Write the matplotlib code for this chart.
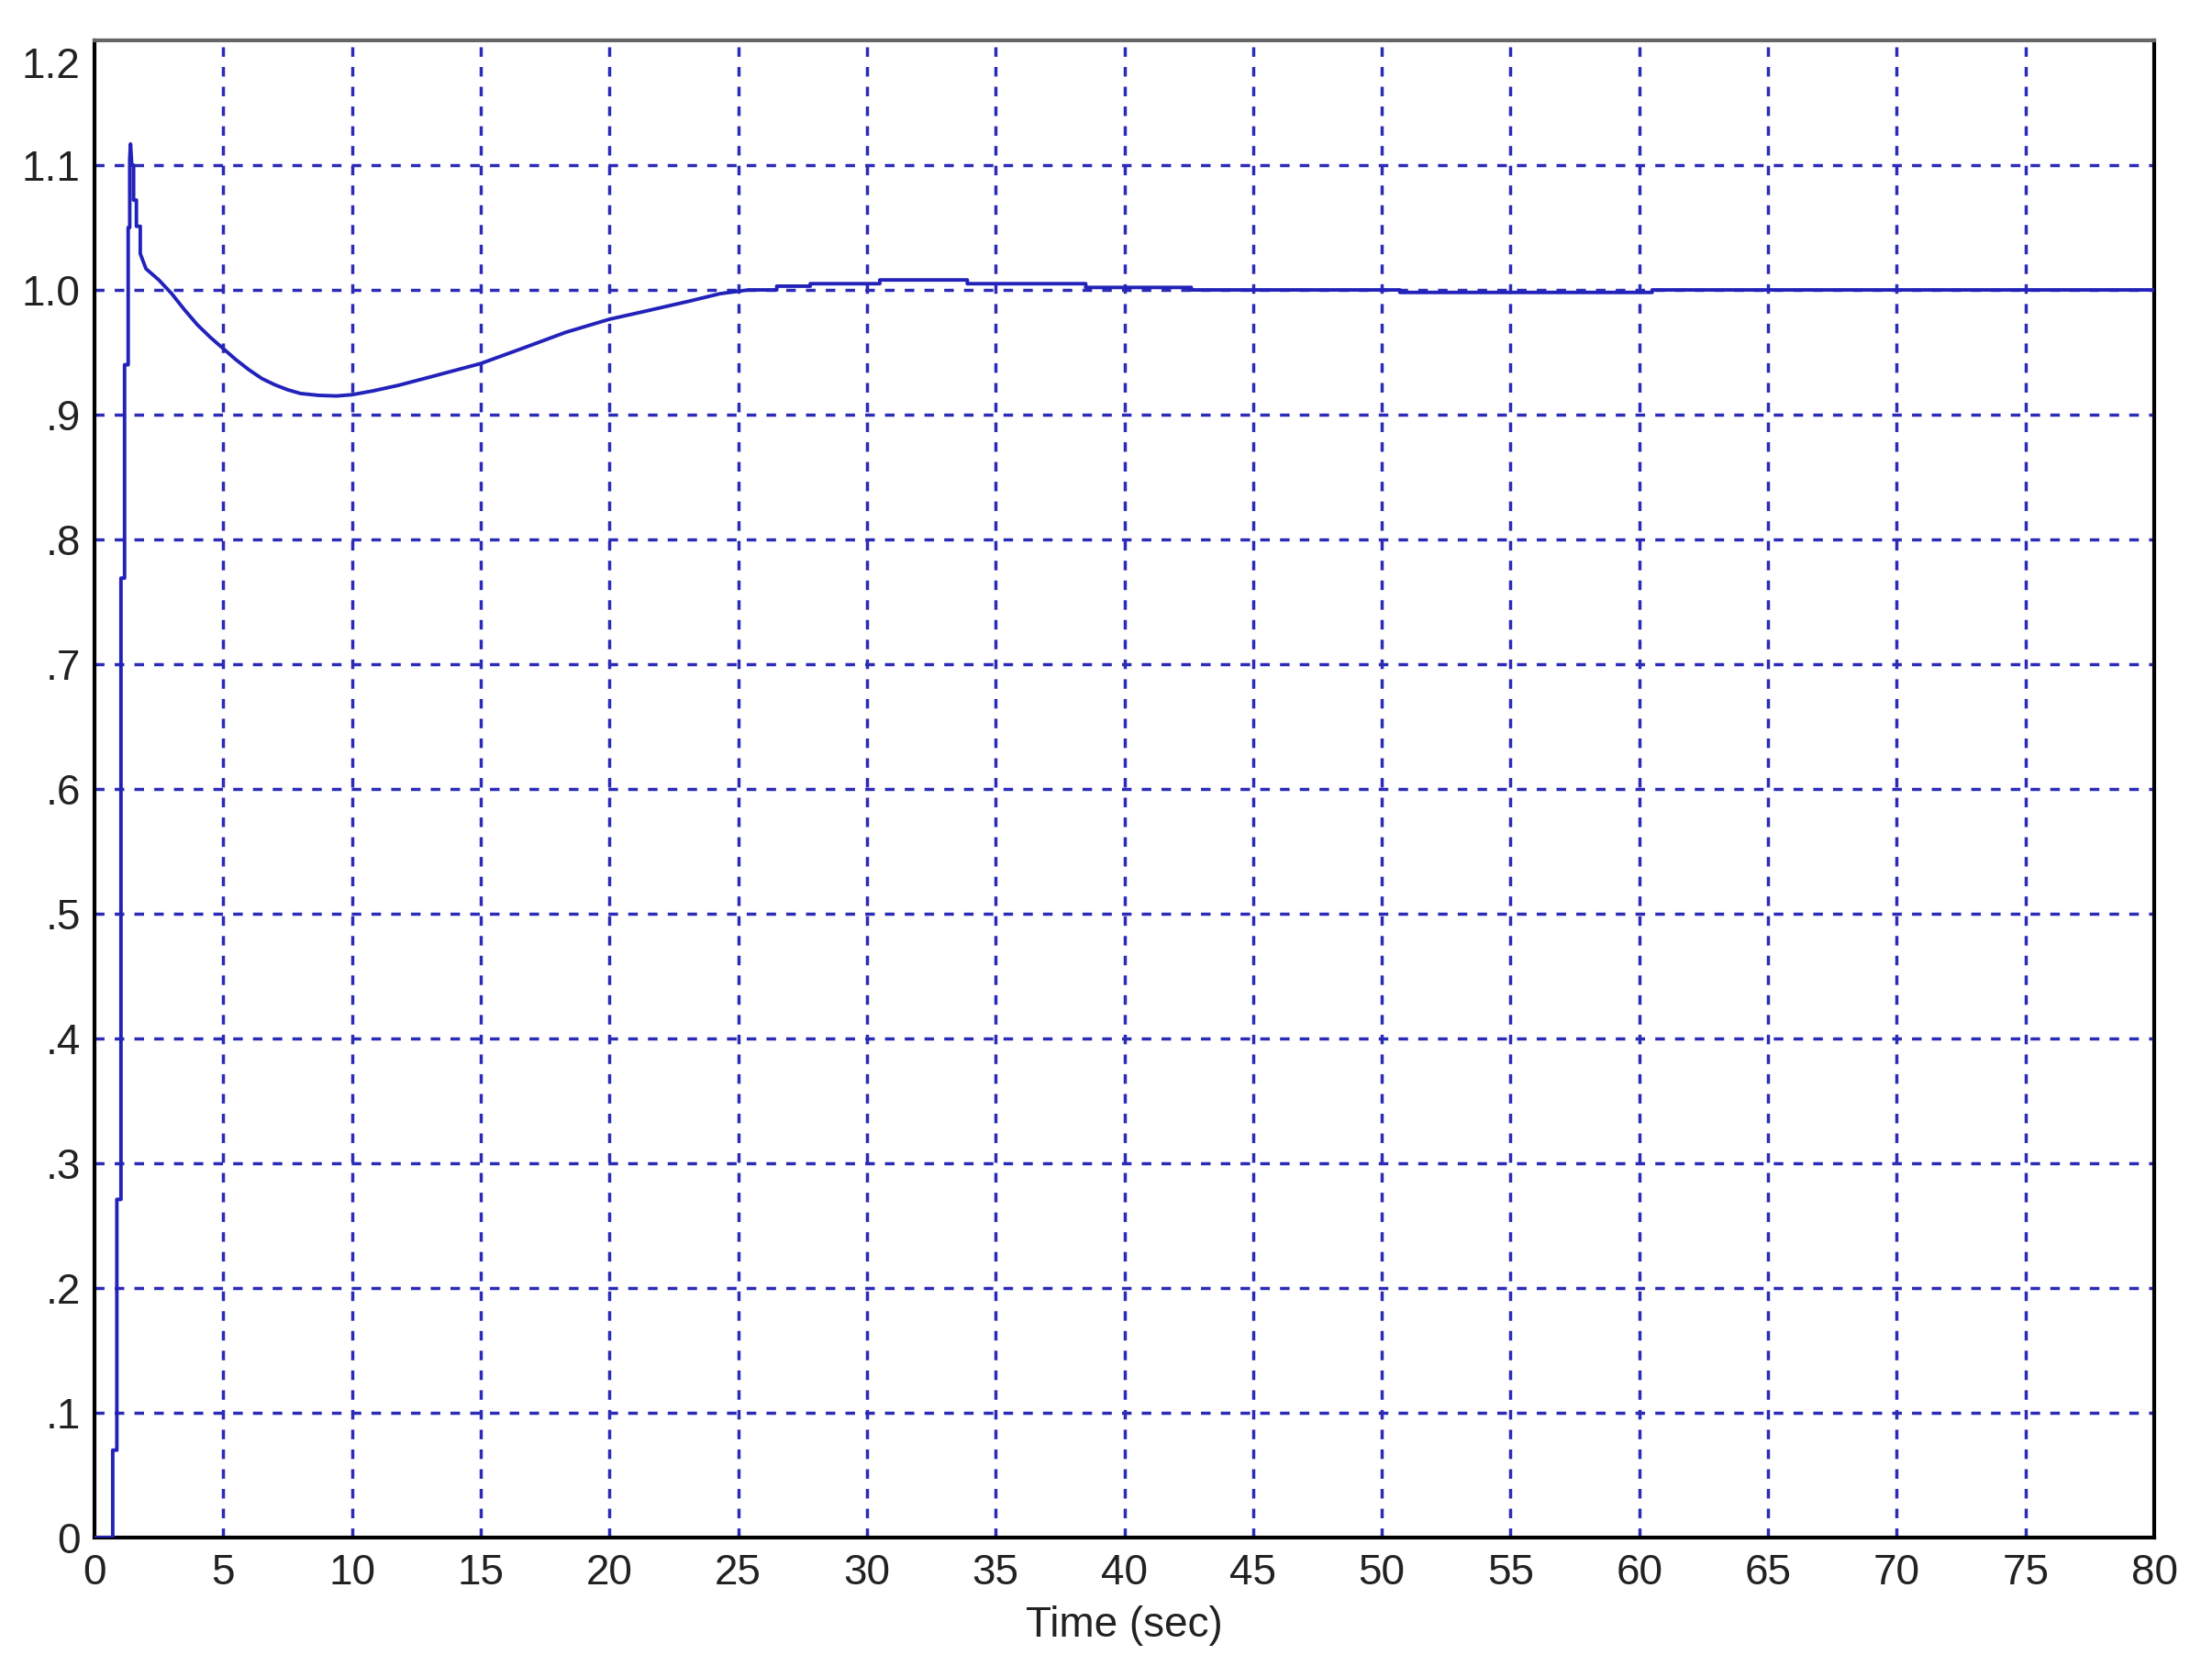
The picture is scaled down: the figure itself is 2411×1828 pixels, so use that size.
import matplotlib
matplotlib.use("Agg")
import matplotlib.pyplot as plt
import matplotlib.transforms as mtransforms

# step response (repeated times = held samples)
time = [0, 0.71, 0.71, 0.87, 0.87, 1.03, 1.03, 1.17, 1.17, 1.31, 1.31, 1.37, 1.37,
        1.40, 1.45, 1.52, 1.52, 1.63, 1.63, 1.78, 1.78, 2.0, 2.5, 3.0, 3.5,
        4.0, 4.5, 5.0, 5.5, 6.0, 6.5, 7.0, 7.5, 8.0, 8.7, 9.4, 10.0, 10.8,
        11.8, 13.0, 15.0, 16.6, 18.3, 20.0, 21.3, 23.1, 24.3, 25.4, 26.5, 26.5,
        27.8, 27.8, 30.5, 30.5, 33.9, 33.9, 38.5, 38.5, 42.6, 42.6, 50.7, 50.7,
        60.5, 60.5, 80.0]
response = [0, 0, 0.070, 0.070, 0.271, 0.271, 0.769, 0.769, 0.940, 0.940, 1.050, 1.050, 1.105,
            1.117, 1.100, 1.100, 1.072, 1.072, 1.051, 1.051, 1.029, 1.017, 1.008, 0.997, 0.984,
            0.972, 0.962, 0.953, 0.944, 0.936, 0.929, 0.924, 0.920, 0.917, 0.9155, 0.915, 0.916, 0.919,
            0.9235, 0.930, 0.941, 0.953, 0.966, 0.9765, 0.9825, 0.991, 0.997, 1.000, 1.000, 1.003,
            1.003, 1.005, 1.005, 1.008, 1.008, 1.005, 1.005, 1.002, 1.002, 1.000, 1.000, 0.998,
            0.998, 1.000, 1.000]

xticks = list(range(0, 81, 5))
yticks = [0, 0.1, 0.2, 0.3, 0.4, 0.5, 0.6, 0.7, 0.8, 0.9, 1.0, 1.1, 1.2]
ytick_labels = ['0', '.1', '.2', '.3', '.4', '.5', '.6', '.7', '.8', '.9', '1.0', '1.1', '1.2']

plt.rcParams['font.family'] = ['Liberation Sans', 'DejaVu Sans']

fig = plt.figure(figsize=(24.11, 18.28), dpi=100)
ax = fig.add_axes([0.0427, 0.0832, 0.9312, 0.8927])

grid_color = '#2b2bb8'
for x in xticks[1:-1]:
    ax.axvline(x, color=grid_color, lw=2.5, dashes=(3.0, 3.2), zorder=1)
for y in yticks[1:-1]:
    ax.axhline(y, color=grid_color, lw=2.5, dashes=(3.0, 3.2), zorder=1)

ax.plot(time, response, color='#2222bb', lw=2.8, zorder=3)

ax.set_xlim(0, 80)
ax.set_ylim(0, 1.2)
ax.set_xticks(xticks)
ax.set_xticklabels([str(x) for x in xticks])
ax.set_yticks(yticks)
ax.set_yticklabels(ytick_labels)
ax.tick_params(axis='both', length=0, labelsize=33, labelcolor='#222222')
ax.tick_params(axis='x', pad=12)
ax.tick_params(axis='y', pad=11)

# top y label sits a little below the frame, as in the original
top_label = ax.get_yticklabels()[-1]
top_label.set_transform(top_label.get_transform() +
                        mtransforms.ScaledTranslation(0, -0.24, fig.dpi_scale_trans))

for side in ['left', 'right', 'bottom']:
    ax.spines[side].set_linewidth(3)
    ax.spines[side].set_color('black')
ax.spines['top'].set_linewidth(3)
ax.spines['top'].set_color('#666666')

ax.set_xlabel('Time (sec)', fontsize=33, color='#222222', labelpad=10)

fig.savefig('out.png', dpi=100, facecolor='white')
